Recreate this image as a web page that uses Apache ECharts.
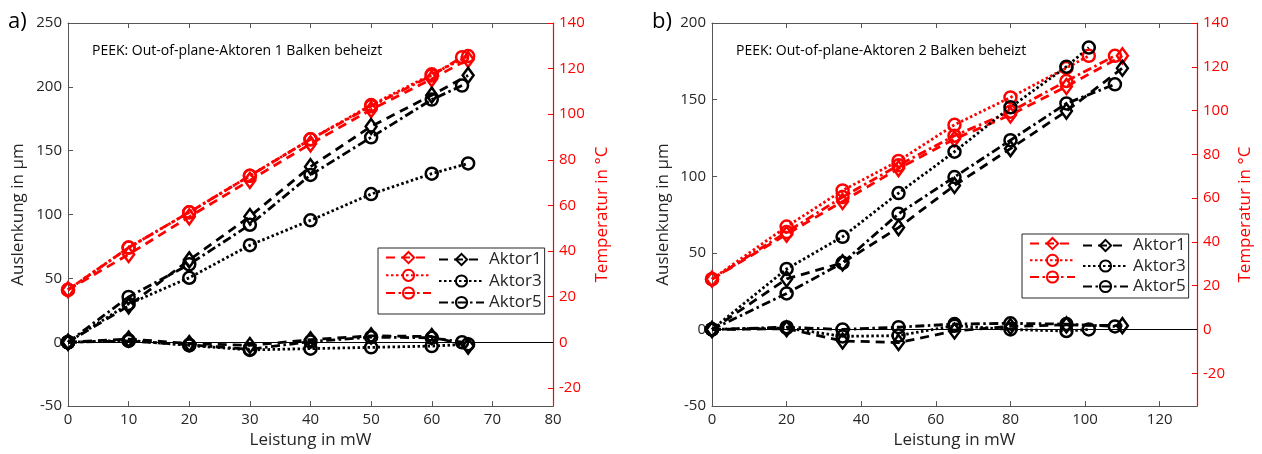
<!DOCTYPE html>
<html>
<head>
<meta charset="utf-8">
<script src="https://cdn.jsdelivr.net/npm/echarts@6/dist/echarts.min.js"></script>
<style>
  html, body { margin: 0; padding: 0; background: #fff; }
  #chart { width: 1262px; height: 454px; }
</style>
</head>
<body>
<div id="chart"></div>
<script>
// Panel a) — one beam heated
const powerA  = [0, 10, 20, 30, 40, 50, 60, 66];
const powerA5 = [0, 10, 20, 30, 40, 50, 60, 65];
const tempA1 = [23, 38.5, 55, 71, 87, 102, 115.5, 124];
const tempA3 = [23, 41.5, 57, 73, 89, 104, 117.5, 125.5];
const tempA5 = [23, 41.5, 57, 73, 89, 103.5, 117, 125];
const deflA1 = [0, 28.5, 64.5, 98.5, 137.5, 169, 193.5, 209];
const deflA3 = [0, 30, 50.5, 76, 95.5, 116, 132, 140];
const deflA5 = [0, 35.5, 61, 92, 131, 160.5, 190, 201];
const restA1 = [0, 2.5, -1, -2.5, 2, 5, 4.5, -3];
const restA3 = [0, 1.5, -2.5, -6, -5, -4, -3, -1.5];
const restA5 = [0, 1, -2, -5.5, 0.5, 4, 3.5, 0];

// Panel b) — two beams heated
const powerB1 = [0, 20, 35, 50, 65, 80, 95, 110];
const powerB3 = [0, 20, 35, 50, 65, 80, 95, 101];
const powerB5 = [0, 20, 35, 50, 65, 80, 95, 108];
const tempB1 = [23, 43.5, 58.5, 73.5, 87, 98, 111, 125];
const tempB3 = [23, 47, 63.5, 77, 93.5, 106, 119.5, 125];
const tempB5 = [23, 44.5, 60.5, 75, 88.5, 99.5, 113.5, 125];
const deflB1 = [0, 33, 43.5, 66.5, 94, 118, 142.5, 170.5];
const deflB3 = [0, 39.5, 60.5, 89, 116, 145, 171.5, 184];
const deflB5 = [0, 23.5, 43.5, 75.5, 99.5, 123.5, 147.5, 160];
const restB1 = [0, 0.5, -7.5, -8.5, -1, 2, 3, 2.5];
const restB3 = [0, 1, -4.5, -4, 2.5, 0, -1, 0];
const restB5 = [0, 1.5, 0, 1.5, 3.5, 4, 3.5, 2];

// Tick labels
const ticksXA = [0, 10, 20, 30, 40, 50, 60, 70, 80];
const ticksXB = [0, 20, 40, 60, 80, 100, 120];
const ticksT  = [-20, 0, 20, 40, 60, 80, 100, 120, 140];

const FONT = 'Open Sans';
const INK = '#262626';
const FRAME = '#555555';
const RED = '#ff0000';

const zip = (xs, ys) => xs.map((x, i) => [x, ys[i]]);

const DASH = [9, 6];
const DOT = [2.5, 2.5];
const DASHDOT = [9, 3.5, 2.5, 3.5];

function lineSeries(name, xs, ys, color, dash, symbol, xi, yi, extra) {
  const diamond = symbol === 'diamond';
  return Object.assign({
    name: name,
    type: 'line',
    xAxisIndex: xi,
    yAxisIndex: yi,
    data: zip(xs, ys),
    symbol: symbol,
    symbolSize: diamond ? [11, 15] : 12,
    color: color,
    lineStyle: { color: color, width: 2.8, type: dash },
    itemStyle: { color: 'rgba(0,0,0,0)', borderColor: color, borderWidth: 2.5 },
    emphasis: { disabled: true },
    animation: false
  }, extra || {});
}

const zeroLine = {
  markLine: {
    silent: true, symbol: 'none', label: { show: false },
    lineStyle: { color: '#000', width: 1, type: 'solid' },
    data: [{ yAxis: 0 }]
  }
};

function bottomAxis(grid, max, interval, ticks) {
  return {
    type: 'value', gridIndex: grid, position: 'bottom', min: 0, max: max, interval: interval,
    name: 'Leistung in mW', nameLocation: 'middle', nameGap: 25,
    nameTextStyle: { fontFamily: FONT, fontSize: 17, color: INK },
    axisLine: { show: true, onZero: false, lineStyle: { color: FRAME, width: 1 } },
    axisTick: { show: true, inside: true, length: 5, customValues: ticks, lineStyle: { color: FRAME } },
    axisLabel: { fontFamily: FONT, fontSize: 15, color: INK, margin: 6, customValues: ticks },
    splitLine: { show: false }
  };
}
function topAxis(grid, max, ticks) {
  return {
    type: 'value', gridIndex: grid, position: 'top', min: 0, max: max,
    axisLine: { show: true, onZero: false, lineStyle: { color: FRAME, width: 1 } },
    axisTick: { show: true, inside: true, length: 5, customValues: ticks, lineStyle: { color: FRAME } },
    axisLabel: { show: false },
    splitLine: { show: false }
  };
}
function leftAxis(grid, max, gap) {
  return {
    type: 'value', gridIndex: grid, position: 'left', min: -50, max: max, interval: 50,
    name: 'Auslenkung in µm', nameLocation: 'middle', nameGap: gap, nameRotate: 90,
    nameTextStyle: { fontFamily: FONT, fontSize: 17, color: INK },
    axisLine: { show: true, onZero: false, lineStyle: { color: FRAME, width: 1 } },
    axisTick: { show: true, inside: true, length: 5, lineStyle: { color: FRAME } },
    axisLabel: { fontFamily: FONT, fontSize: 15, color: INK, margin: 6 },
    splitLine: { show: false }
  };
}
function rightAxis(grid, min, gap) {
  return {
    type: 'value', gridIndex: grid, position: 'right', min: min, max: 140,
    name: 'Temperatur in °C', nameLocation: 'middle', nameGap: gap, nameRotate: 90,
    nameTextStyle: { fontFamily: FONT, fontSize: 17, color: RED },
    axisLine: { show: true, onZero: false, lineStyle: { color: RED, width: 1.2 } },
    axisTick: { show: true, inside: true, length: 5, customValues: ticksT, lineStyle: { color: RED } },
    axisLabel: { fontFamily: FONT, fontSize: 15, color: RED, margin: 6, customValues: ticksT },
    splitLine: { show: false }
  };
}

function legends(left, top, gap) {
  return [
    {
      orient: 'vertical', left: left + 7, top: top + 3, padding: 0,
      itemWidth: 45, itemHeight: 14, itemGap: gap, selectedMode: false,
      data: ['T Aktor1', 'T Aktor3', 'T Aktor5'],
      formatter: () => '',
      textStyle: { fontSize: 10, lineHeight: 14 }
    },
    {
      orient: 'vertical', left: left, top: top, padding: [3, 3, 3, 60],
      borderColor: INK, borderWidth: 1, backgroundColor: 'rgba(255,255,255,0)',
      itemWidth: 45, itemHeight: 14, itemGap: gap, selectedMode: false,
      data: ['Aktor1', 'Aktor3', 'Aktor5'],
      textStyle: { fontFamily: FONT, fontSize: 17, lineHeight: 14, color: INK }
    }
  ];
}

const series = [
  // a) temperatures (right axis)
  lineSeries('T Aktor1', powerA, tempA1, RED, DASH, 'diamond', 0, 1),
  lineSeries('T Aktor3', powerA, tempA3, RED, DOT, 'circle', 0, 1),
  lineSeries('T Aktor5', powerA5, tempA5, RED, DASHDOT, 'circle', 0, 1),
  // a) deflections (left axis)
  lineSeries('Aktor1', powerA, deflA1, '#000', DASH, 'diamond', 0, 0, zeroLine),
  lineSeries('Aktor3', powerA, deflA3, '#000', DOT, 'circle', 0, 0),
  lineSeries('Aktor5', powerA5, deflA5, '#000', DASHDOT, 'circle', 0, 0),
  lineSeries('Aktor1 quer', powerA, restA1, '#000', DASH, 'diamond', 0, 0),
  lineSeries('Aktor3 quer', powerA, restA3, '#000', DOT, 'circle', 0, 0),
  lineSeries('Aktor5 quer', powerA5, restA5, '#000', DASHDOT, 'circle', 0, 0),
  // b) temperatures (right axis)
  lineSeries('T Aktor1', powerB1, tempB1, RED, DASH, 'diamond', 2, 3),
  lineSeries('T Aktor3', powerB3, tempB3, RED, DOT, 'circle', 2, 3),
  lineSeries('T Aktor5', powerB5, tempB5, RED, DASHDOT, 'circle', 2, 3),
  // b) deflections (left axis)
  lineSeries('Aktor1', powerB1, deflB1, '#000', DASH, 'diamond', 2, 2, zeroLine),
  lineSeries('Aktor3', powerB3, deflB3, '#000', DOT, 'circle', 2, 2),
  lineSeries('Aktor5', powerB5, deflB5, '#000', DASHDOT, 'circle', 2, 2),
  lineSeries('Aktor1 quer', powerB1, restB1, '#000', DASH, 'diamond', 2, 2),
  lineSeries('Aktor3 quer', powerB3, restB3, '#000', DOT, 'circle', 2, 2),
  lineSeries('Aktor5 quer', powerB5, restB5, '#000', DASHDOT, 'circle', 2, 2)
];

const chart = echarts.init(document.getElementById('chart'), null, { renderer: 'canvas' });
chart.setOption({
  backgroundColor: '#fff',
  animation: false,
  title: [
    { text: 'a)', left: 8, top: 11, padding: 0, textStyle: { fontFamily: FONT, fontSize: 22, fontWeight: 'normal', color: '#000' } },
    { text: 'b)', left: 652, top: 11, padding: 0, textStyle: { fontFamily: FONT, fontSize: 22, fontWeight: 'normal', color: '#000' } },
    { text: 'PEEK: Out-of-plane-Aktoren 1 Balken beheizt', left: 92, top: 44, padding: 0,
      textStyle: { fontFamily: FONT, fontSize: 14, fontWeight: 'normal', color: '#000' } },
    { text: 'PEEK: Out-of-plane-Aktoren 2 Balken beheizt', left: 736, top: 44, padding: 0,
      textStyle: { fontFamily: FONT, fontSize: 14, fontWeight: 'normal', color: '#000' } }
  ],
  grid: [
    { left: 68, top: 23, width: 485, height: 384 },
    { left: 712, top: 23, width: 485, height: 384 }
  ],
  xAxis: [
    bottomAxis(0, 80, 10, ticksXA),
    topAxis(0, 80, ticksXA),
    bottomAxis(1, 130, 10, ticksXB),
    topAxis(1, 130, ticksXB)
  ],
  yAxis: [
    leftAxis(0, 250, 41),
    rightAxis(0, -28, 41),
    leftAxis(1, 200, 40),
    rightAxis(1, -35, 40)
  ],
  legend: legends(378, 248, 4.5).concat(legends(1022, 234, 3.5)),
  series: series
});
</script>
</body>
</html>
